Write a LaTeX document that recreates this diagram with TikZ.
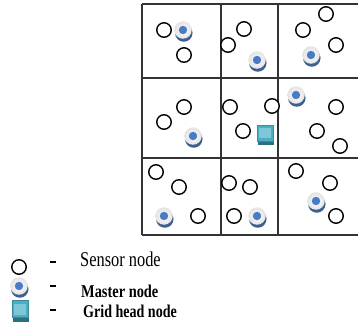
\documentclass[tikz,border=0pt]{standalone}
\usepackage{fontspec}
\setmainfont{Liberation Serif}
\usetikzlibrary{shadows}
\definecolor{gridline}{HTML}{333333}
\definecolor{mshadow}{HTML}{3E5F8F}
\definecolor{mdot}{HTML}{4A7CC4}
\definecolor{ghfill}{HTML}{4AAFC6}
\definecolor{ghinner}{HTML}{7CC8D8}
\definecolor{ghshadow}{HTML}{2C6F7E}
\tikzset{
  gridln/.style={draw=gridline, line width=1.3pt},
  sensor/.style={circle, draw=black, line width=1.4pt, minimum size=14.5pt, inner sep=0pt, fill=white},
  master/.style={circle, minimum size=17.5pt, inner sep=0pt,
    inner color=white, outer color=gray!22,
    drop shadow={shadow xshift=0.8pt, shadow yshift=-3pt, fill=mshadow, opacity=1},
    path picture={\fill[mdot] (path picture bounding box.center) circle (4.2pt);}},
  gridhead/.style={rectangle, minimum width=16pt, minimum height=16pt, inner sep=0pt,
    fill=ghfill, draw=ghfill!80!black, line width=0.4pt,
    drop shadow={shadow xshift=0.8pt, shadow yshift=-4pt, fill=ghshadow, opacity=1},
    path picture={\fill[ghinner] ([xshift=2pt,yshift=-3pt]path picture bounding box.north west) rectangle ([xshift=-2pt,yshift=3pt]path picture bounding box.south east);}},
  legdash/.style={draw=black, line width=1.6pt},
  legtext/.style={anchor=base west, inner sep=0pt},
}
\begin{document}
\begin{tikzpicture}[x=1pt,y=-1pt]
\useasboundingbox (0,0) rectangle (359,324);
% grid
\coordinate (g00) at (142,4);
\coordinate (g01) at (358,4);
\coordinate (g10) at (142,78);
\coordinate (g11) at (358,78);
\coordinate (g20) at (142,158);
\coordinate (g21) at (358,158);
\coordinate (g30) at (142,235);
\coordinate (g31) at (358,235);
\coordinate (v1a) at (221,4);
\coordinate (v1b) at (221,235);
\coordinate (v2a) at (278,4);
\coordinate (v2b) at (278,235);
\draw[gridln] (g00) -- (g01);
\draw[gridln] (g10) -- (g11);
\draw[gridln] (g20) -- (g21);
\draw[gridln] (g30) -- (g31);
\draw[gridln] (g00) -- (g30);
\draw[gridln] (v1a) -- (v1b);
\draw[gridln] (v2a) -- (v2b);
% row 1
\node[sensor] (s11a) at (164,30) {};
\node[sensor] (s11b) at (184,55) {};
\node[master] (m11) at (183,30) {};
\node[sensor] (s12a) at (244,29) {};
\node[sensor] (s12b) at (228,45) {};
\node[master] (m12) at (257,60) {};
\node[sensor] (s13a) at (326,14) {};
\node[sensor] (s13b) at (303,30) {};
\node[sensor] (s13c) at (336,45) {};
\node[master] (m13) at (311,55) {};
% row 2
\node[sensor] (s21a) at (184,107) {};
\node[sensor] (s21b) at (164,122) {};
\node[master] (m21) at (193,136) {};
\node[sensor] (s22a) at (230,107) {};
\node[sensor] (s22b) at (272,106) {};
\node[sensor] (s22c) at (243,131) {};
\node[gridhead] (gh) at (265,133) {};
\node[master] (m23) at (296,95) {};
\node[sensor] (s23a) at (336,107) {};
\node[sensor] (s23b) at (317,131) {};
\node[sensor] (s23c) at (340,146) {};
% row 3
\node[sensor] (s31a) at (156,172) {};
\node[sensor] (s31b) at (179,187) {};
\node[sensor] (s31c) at (198,216) {};
\node[master] (m31) at (164,216) {};
\node[sensor] (s32a) at (229,183) {};
\node[sensor] (s32b) at (250,187) {};
\node[sensor] (s32c) at (234,216) {};
\node[master] (m32) at (257,216) {};
\node[sensor] (s33a) at (296,171) {};
\node[sensor] (s33b) at (330,183) {};
\node[sensor] (s33c) at (336,216) {};
\node[master] (m33) at (316,201) {};
% legend
\node[sensor] (lsens) at (19,267) {};
\node[master] (lmast) at (19,286) {};
\node[gridhead, minimum height=17pt] (lgh) at (20,309) {};
\coordinate (d1a) at (50,262); \coordinate (d1b) at (56,262);
\coordinate (d2a) at (50,286); \coordinate (d2b) at (56,286);
\coordinate (d3a) at (50,310); \coordinate (d3b) at (56,310);
\draw[legdash] (d1a) -- (d1b);
\draw[legdash] (d2a) -- (d2b);
\draw[legdash] (d3a) -- (d3b);
\node[legtext] (t1) at (80,266) {\scalebox{0.78}[1]{\fontsize{21}{24}\selectfont Sensor node}};
\node[legtext] (t2) at (81,297) {\scalebox{0.8}[1]{\fontsize{18}{21}\selectfont\bfseries Master node}};
\node[legtext] (t3) at (83,317) {\scalebox{0.78}[1]{\fontsize{18}{21}\selectfont\bfseries Grid head node}};
\end{tikzpicture}
\end{document}
